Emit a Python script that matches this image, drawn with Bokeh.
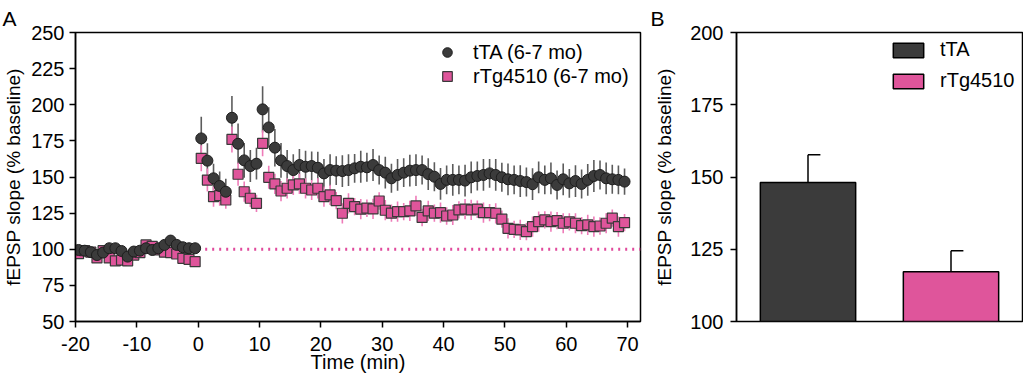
from bokeh.plotting import figure
from bokeh.models import (ColumnDataSource, Legend, LegendItem, Range1d,
                          FixedTicker, Title)
from bokeh.layouts import row
from bokeh.embed import file_html
from bokeh.resources import INLINE

# ---------------- data ----------------
time_min = [-19.5, -18.5, -17.5, -16.5, -15.5, -14.5, -13.5, -12.5, -11.5, -10.5,
            -9.5, -8.5, -7.5, -6.5, -5.5, -4.5, -3.5, -2.5, -1.5, -0.5,
            0.5, 1.5, 2.5, 3.5, 4.5, 5.5, 6.5, 7.5, 8.5, 9.5,
            10.5, 11.5, 12.5, 13.5, 14.5, 15.5, 16.5, 17.5, 18.5, 19.5,
            20.5, 21.5, 22.5, 23.5, 24.5, 25.5, 26.5, 27.5, 28.5, 29.5,
            30.5, 31.5, 32.5, 33.5, 34.5, 35.5, 36.5, 37.5, 38.5, 39.5,
            40.5, 41.5, 42.5, 43.5, 44.5, 45.5, 46.5, 47.5, 48.5, 49.5,
            50.5, 51.5, 52.5, 53.5, 54.5, 55.5, 56.5, 57.5, 58.5, 59.5,
            60.5, 61.5, 62.5, 63.5, 64.5, 65.5, 66.5, 67.5, 68.5, 69.5]

tta_mean = [99.5, 99.0, 98.0, 96.0, 97.7, 100.7, 100.7, 98.8, 94.9, 98.4,
            99.0, 100.7, 99.5, 100.7, 103.0, 106.0, 103.0, 101.4, 100.7, 100.7,
            176.7, 161.3, 149.1, 143.8, 139.8, 191.0, 173.0, 161.5, 157.6, 159.2,
            196.8, 184.3, 170.3, 161.5, 157.6, 154.8, 158.3, 157.1, 157.6, 156.4,
            152.5, 154.8, 154.4, 154.1, 154.8, 156.0, 157.1, 156.7, 158.3, 154.8,
            153.0, 149.1, 151.4, 153.0, 154.4, 154.8, 154.8, 152.0, 150.2, 145.2,
            148.0, 148.0, 148.0, 147.5, 149.8, 150.7, 151.4, 152.5, 151.4, 149.8,
            148.4, 148.0, 147.2, 146.5, 145.0, 149.8, 148.0, 149.1, 144.5, 148.4,
            145.6, 147.2, 145.2, 148.0, 150.7, 151.4, 149.1, 148.4, 148.0, 146.8]
tta_sem = [3, 3, 3, 3, 3, 3, 3, 3, 3, 3,
           3, 3, 3, 3, 3, 3, 3, 3, 3, 3,
           15, 12, 10, 10, 9, 15, 14, 12, 11, 11,
           16, 14, 13, 12, 11, 11, 11, 11, 10, 11,
           10, 11, 10, 11, 11, 10, 11, 10, 11, 10,
           11, 10, 11, 10, 11, 11, 10, 11, 10, 11,
           10, 11, 10, 11, 11, 10, 11, 10, 11, 10,
           11, 10, 11, 10, 11, 11, 10, 11, 10, 11,
           10, 11, 10, 11, 11, 10, 11, 10, 10, 9]

rtg_mean = [97.0, 99.0, 98.0, 94.0, 99.0, 94.0, 92.0, 92.5, 92.0, 96.0,
            97.7, 103.0, 102.0, 99.5, 98.0, 97.7, 96.7, 93.7, 93.0, 91.4,
            162.9, 147.9, 136.4, 137.1, 134.1, 176.0, 151.9, 139.8, 135.3, 131.8,
            173.3, 149.8, 145.2, 140.3, 142.2, 144.5, 145.2, 142.2, 141.0, 142.2,
            136.4, 137.6, 133.6, 124.9, 131.8, 129.5, 127.7, 128.4, 127.9, 133.4,
            127.0, 125.0, 126.0, 126.0, 126.5, 130.0, 122.0, 126.5, 125.0, 125.3,
            123.0, 123.7, 127.2, 127.7, 127.2, 127.7, 125.3, 125.3, 124.9, 120.8,
            114.5, 113.8, 113.4, 112.2, 115.7, 119.1, 120.3, 119.1, 119.8, 118.0,
            119.0, 118.0, 116.3, 116.8, 115.7, 116.1, 118.0, 121.5, 115.7, 118.4]
rtg_sem = [3, 3, 3, 3, 3, 3, 3, 3, 3, 3,
           3, 3, 3, 3, 3, 3, 3, 3, 3, 3,
           9, 8, 7, 7, 6, 9, 8, 7, 6, 6,
           9, 8, 7, 7, 7, 7, 7, 7, 7, 7,
           7, 7, 6, 7, 7, 6, 7, 6, 7, 6,
           7, 6, 7, 6, 7, 7, 6, 7, 6, 7,
           6, 7, 6, 7, 7, 6, 7, 6, 7, 6,
           7, 6, 7, 6, 7, 7, 6, 7, 6, 7,
           6, 7, 6, 7, 7, 6, 7, 6, 7, 6]

baseline_level = 100
x_ticks = [-20, -10, 0, 10, 20, 30, 40, 50, 60, 70]
x_tick_labels = ["-20", "-10", "0", "10", "20", "30", "40", "50", "60", "70"]
y_ticks_a = [50, 75, 100, 125, 150, 175, 200, 225, 250]

groups = ["tTA", "rTg4510"]
bar_mean = [148.1, 117.2]
bar_sem = [9.6, 7.3]
y_ticks_b = [100, 125, 150, 175, 200]

# ---------------- style ----------------
FONT = "Liberation Sans"
FS = "20px"
FS_Y = "19px"
DARK = "#3b3b3b"
PINK = "#df559b"
PINK_ERR = "#ee7cb9"
GRAY_ERR = "#5c5c5c"
H = 376


def style_axis(ax):
    ax.axis_line_color = "black"
    ax.axis_line_width = 1.5
    ax.major_tick_line_color = "black"
    ax.major_tick_line_width = 1.5
    ax.major_tick_out = 6
    ax.major_tick_in = 0
    ax.minor_tick_line_color = None
    ax.major_label_text_font = FONT
    ax.major_label_text_font_size = FS
    ax.major_label_text_color = "black"
    ax.axis_label_text_font = FONT
    ax.axis_label_text_font_size = FS
    ax.axis_label_text_font_style = "normal"
    ax.axis_label_text_color = "black"


def src_for(t, m, s):
    return ColumnDataSource(dict(
        t=t, y=m,
        lo=[a - b for a, b in zip(m, s)],
        hi=[a + b for a, b in zip(m, s)],
    ))


# ---------------- panel A ----------------
pA = figure(width=651, height=H, x_range=Range1d(-20, 72.1), y_range=Range1d(50, 250),
            output_backend="svg", toolbar_location=None,
            min_border_left=73, min_border_right=11, min_border_top=32, min_border_bottom=H - 321)
pA.grid.visible = False
pA.outline_line_color = "black"
pA.outline_line_width = 1.5
pA.outline_line_alpha = 1.0
for ax in (pA.xaxis[0], pA.yaxis[0]):
    style_axis(ax)
pA.xaxis[0].ticker = FixedTicker(ticks=x_ticks)
pA.xaxis[0].major_label_overrides = dict(zip(x_ticks, x_tick_labels))
pA.yaxis[0].ticker = FixedTicker(ticks=y_ticks_a)
pA.xaxis[0].axis_label = "Time (min)"
pA.yaxis[0].axis_label = "fEPSP slope (% baseline)"
pA.yaxis[0].axis_label_text_font_size = FS_Y
pA.xaxis[0].major_label_standoff = 9
pA.xaxis[0].axis_label_standoff = -3
pA.yaxis[0].major_label_standoff = 5
pA.yaxis[0].axis_label_standoff = 4
pA.title = Title(text="A", align="left", offset=-73, text_font=FONT, text_font_size="21px",
                 text_font_style="normal", text_color="black", standoff=6)

s_tta = src_for(time_min, tta_mean, tta_sem)
s_rtg = src_for(time_min, rtg_mean, rtg_sem)

pA.line(x=[0, pA.x_range.end], y=[baseline_level, baseline_level], line_color="#e04a9c",
        line_width=3, line_dash="2 5")

pA.segment(x0="t", y0="lo", x1="t", y1="hi", source=s_tta, line_color=GRAY_ERR, line_width=1.6)
pA.segment(x0="t", y0="lo", x1="t", y1="hi", source=s_rtg, line_color=PINK_ERR, line_width=1.6)
r_sq = pA.scatter(x="t", y="y", source=s_rtg, marker="square", size=10,
                  fill_color=PINK, line_color="#3a3a3a", line_width=1.2)
r_ci = pA.scatter(x="t", y="y", source=s_tta, marker="circle", size=11,
                  fill_color=DARK, line_color="#1e1e1e", line_width=1.0)

legA = Legend(items=[LegendItem(label="tTA (6-7 mo)", renderers=[r_ci]),
                     LegendItem(label="rTg4510 (6-7 mo)", renderers=[r_sq])],
              location=(360, 233), orientation="vertical",
              glyph_width=24, glyph_height=24, label_standoff=14, spacing=0,
              padding=0, margin=0, border_line_alpha=0, background_fill_alpha=0,
              label_text_font=FONT, label_text_font_size=FS, label_text_color="black",
              label_height=24)
pA.add_layout(legA)

# ---------------- panel B ----------------
bar_x = [0.5 + 1.5 * i for i in range(len(groups))]
pB = figure(width=372, height=H, x_range=Range1d(-0.25, 2.75), y_range=Range1d(100, 200),
            output_backend="svg", toolbar_location=None,
            min_border_left=85, min_border_right=1, min_border_top=32, min_border_bottom=H - 321)
pB.grid.visible = False
pB.outline_line_color = "black"
pB.outline_line_width = 1.5
pB.outline_line_alpha = 1.0
pB.xaxis.visible = False
style_axis(pB.yaxis[0])
pB.yaxis[0].ticker = FixedTicker(ticks=y_ticks_b)
pB.yaxis[0].axis_label = "fEPSP slope (% baseline)"
pB.yaxis[0].axis_label_text_font_size = FS_Y
pB.yaxis[0].major_label_standoff = 7
pB.yaxis[0].axis_label_standoff = 12
pB.title = Title(text="B", align="left", offset=-86, text_font=FONT, text_font_size="21px",
                 text_font_style="normal", text_color="black", standoff=5)

cap = 0.13
s_bar = ColumnDataSource(dict(
    x=bar_x, x_cap=[v + cap for v in bar_x], g=groups, m=bar_mean,
    hi=[a + b for a, b in zip(bar_mean, bar_sem)],
    base=[pB.y_range.start] * len(groups),
    color=[DARK, PINK],
))
pB.segment(x0="x", y0="m", x1="x", y1="hi", source=s_bar, line_color="black", line_width=1.5)
pB.segment(x0="x", y0="hi", x1="x_cap", y1="hi", source=s_bar,
           line_color="black", line_width=1.5)
r_bar = pB.vbar(x="x", top="m", bottom="base", width=1.0, source=s_bar,
                fill_color="color", line_color="black", line_width=1.5)

legB = Legend(items=[LegendItem(label="tTA", renderers=[r_bar], index=0),
                     LegendItem(label="rTg4510", renderers=[r_bar], index=1)],
              location=(153, 229), orientation="vertical",
              glyph_width=38, glyph_height=18, label_standoff=13, spacing=8,
              padding=0, margin=0, border_line_alpha=0, background_fill_alpha=0,
              label_text_font=FONT, label_text_font_size=FS, label_text_color="black",
              label_height=21)
pB.add_layout(legB)

layout = row(pA, pB)
open("out.html", "w").write(file_html(layout, INLINE))
